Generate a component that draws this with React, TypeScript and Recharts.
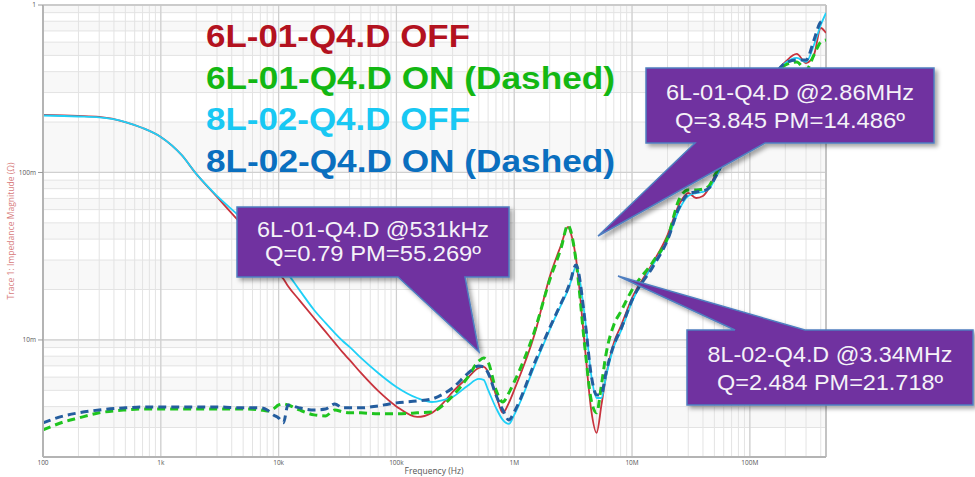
import React from 'react'
import { LineChart, Line, XAxis, YAxis, CartesianGrid, ReferenceLine } from 'recharts'

// sweep frequencies (Hz) shared by all four traces
const freqHz = [
  100, 150, 200, 300, 500, 700, 1e3, 1.5e3, 2e3, 3e3,
  5e3, 7e3, 8e3, 9e3, 1e4, 1.1e4, 1.2e4, 1.5e4, 2e4, 2.5e4,
  3e4, 3.5e4, 4e4, 5e4, 7e4, 1e5, 1.5e5, 2e5, 2.5e5, 3e5,
  4e5, 5e5, 5.5e5, 6e5, 7e5, 8e5, 9e5, 1e6, 1.5e6, 2e6,
  2.5e6, 2.86e6, 3e6, 3.34e6, 4e6, 4.5e6, 5e6, 5.5e6, 6e6, 7e6,
  8e6, 1e7, 1.5e7, 2e7, 2.5e7, 3e7, 3.5e7, 4e7, 4.5e7, 5e7,
  6e7, 7e7, 1e8, 1.5e8, 2e8, 2.5e8, 3e8, 3.5e8, 4e8, 4.43e8,
]

// impedance magnitude (ohm)
const off6L = [
  0.2205, 0.2189, 0.2174, 0.2145, 0.2001, 0.1843, 0.1629, 0.1272, 0.098, 0.0714,
  0.0479, 0.0369, 0.0322, 0.0288, 0.0251, 0.0231, 0.021, 0.0173, 0.01353, 0.0112,
  0.0096, 0.00842, 0.0076, 0.00635, 0.00496, 0.00401, 0.00347, 0.00367, 0.00421, 0.00489,
  0.00593, 0.0068, 0.0069, 0.00644, 0.00469, 0.00367, 0.00421, 0.00503, 0.011, 0.0238,
  0.0369, 0.0473, 0.0441, 0.0309, 0.00872, 0.00382, 0.00279, 0.00409, 0.00601, 0.0096,
  0.012, 0.0178, 0.0288, 0.0423, 0.064, 0.0754, 0.0704, 0.0724, 0.0808, 0.094,
  0.1188, 0.1521, 0.253, 0.357, 0.457, 0.51, 0.45, 0.503, 0.729, 0.681,
]
const on6L = [
  0.0029, 0.00324, 0.00342, 0.00367, 0.00382, 0.00387, 0.00387, 0.00387, 0.00387, 0.00387,
  0.00387, 0.00382, 0.00377, 0.00387, 0.00409, 0.00415, 0.00409, 0.00382, 0.00357, 0.00352,
  0.00382, 0.00372, 0.00367, 0.00367, 0.00362, 0.00362, 0.00367, 0.00372, 0.00409, 0.00463,
  0.00593, 0.00749, 0.00781, 0.00739, 0.00503, 0.00426, 0.00483, 0.00561, 0.0115, 0.0228,
  0.0354, 0.0486, 0.0454, 0.03, 0.00872, 0.00438, 0.00367, 0.00539, 0.00814, 0.0123,
  0.0147, 0.0199, 0.0292, 0.0406, 0.0685, 0.0786, 0.0786, 0.0797, 0.0831, 0.0953,
  0.1221, 0.1563, 0.253, 0.357, 0.438, 0.457, 0.409, 0.503, 0.601, 0.618,
]
const off8L = [
  0.2189, 0.2174, 0.2159, 0.213, 0.2001, 0.1843, 0.1629, 0.1272, 0.098, 0.0724,
  0.0521, 0.0406, 0.0364, 0.0326, 0.0292, 0.0269, 0.0248, 0.0199, 0.0151, 0.01264,
  0.011, 0.00986, 0.00909, 0.00781, 0.00635, 0.00524, 0.0045, 0.00426, 0.00438, 0.00457,
  0.00531, 0.00585, 0.00577, 0.00503, 0.00393, 0.00333, 0.00315, 0.00357, 0.00709, 0.0115,
  0.0162, 0.0199, 0.0219, 0.0273, 0.0132, 0.00618, 0.0045, 0.0045, 0.00601, 0.00909,
  0.0112, 0.0169, 0.028, 0.0395, 0.0597, 0.0724, 0.0754, 0.0765, 0.0797, 0.0902,
  0.1155, 0.1521, 0.253, 0.357, 0.45, 0.483, 0.457, 0.577, 0.76, 0.896,
]
const on8L = [
  0.0032, 0.00352, 0.00367, 0.00382, 0.00393, 0.00398, 0.00398, 0.00398, 0.00398, 0.00398,
  0.00393, 0.00393, 0.00382, 0.00357, 0.00342, 0.0032, 0.00409, 0.00393, 0.00382, 0.00387,
  0.00415, 0.00393, 0.00393, 0.00393, 0.00404, 0.00421, 0.00432, 0.00444, 0.00476, 0.00517,
  0.00627, 0.00699, 0.0069, 0.00635, 0.00469, 0.00382, 0.00333, 0.00372, 0.00739, 0.0118,
  0.0166, 0.0204, 0.0225, 0.028, 0.0128, 0.00618, 0.00469, 0.00476, 0.00635, 0.00934,
  0.0115, 0.0173, 0.0273, 0.0395, 0.0614, 0.0744, 0.0765, 0.0775, 0.0808, 0.0915,
  0.1188, 0.1521, 0.253, 0.357, 0.45, 0.469, 0.469, 0.618, 0.792, 0.814,
]

const xTicks = [1e2, 1e3, 1e4, 1e5, 1e6, 1e7, 1e8]
const xTickLabels = ['100', '1k', '10k', '100k', '1M', '10M', '100M']
const yTicks = [0.01, 0.1, 1]
const yTickLabels = ['10m', '100m', '1']

const legendLabels = ['6L-01-Q4.D OFF', '6L-01-Q4.D ON (Dashed)', '8L-02-Q4.D OFF', '8L-02-Q4.D ON (Dashed)']
const calloutText = [
  ['6L-01-Q4.D @531kHz', 'Q=0.79 PM=55.269º'],
  ['6L-01-Q4.D @2.86MHz', 'Q=3.845 PM=14.486º'],
  ['8L-02-Q4.D @3.34MHz', 'Q=2.484 PM=21.718º'],
]

const X_DOMAIN: [number, number] = [100, 4.43e8]
const Y_DOMAIN: [number, number] = [0.002, 1]

// decade lines, or every 1..9 multiple inside a domain
function logGrid(lo: number, hi: number, minor: boolean) {
  const out: number[] = []
  for (let e = Math.floor(Math.log10(lo)); e <= Math.ceil(Math.log10(hi)); e++) {
    const ks = minor ? [1, 2, 3, 4, 5, 6, 7, 8, 9] : [1]
    for (const k of ks) {
      const v = k * Math.pow(10, e)
      if (v >= lo * 0.999 && v <= hi * 1.001) out.push(v)
    }
  }
  return out
}
const xGridMinor = logGrid(X_DOMAIN[0], X_DOMAIN[1], true)
const yGridMinor = logGrid(Y_DOMAIN[0], Y_DOMAIN[1], true)
const xGridMajor = logGrid(X_DOMAIN[0], X_DOMAIN[1], false)
const yGridMajor = logGrid(Y_DOMAIN[0], Y_DOMAIN[1], false)

const rows = freqHz.map((f, i) => ({ f, off6L: off6L[i], on6L: on6L[i], off8L: off8L[i], on8L: on8L[i] }))

function logPos(v: number, [lo, hi]: [number, number], start: number, size: number) {
  return start + ((Math.log10(v) - Math.log10(lo)) / (Math.log10(hi) - Math.log10(lo))) * size
}

const vGen = (values: number[]) => ({ xAxis, offset }: any) =>
  values.map((v) =>
    xAxis && typeof xAxis.scale === 'function' ? xAxis.scale(v) : logPos(v, X_DOMAIN, offset.left, offset.width),
  )
const hGen = (values: number[]) => ({ yAxis, offset }: any) =>
  values.map((v) =>
    yAxis && typeof yAxis.scale === 'function'
      ? yAxis.scale(v)
      : offset.top + offset.height - logPos(v, Y_DOMAIN, 0, offset.height),
  )

const XTick = ({ x, y, payload }: any) => {
  const i = xTicks.indexOf(payload.value)
  return (
    <text x={x} y={y + 8} textAnchor="middle" fontSize={6.5} fill="#555" fontFamily="'Open Sans', sans-serif">
      {xTickLabels[i] ?? payload.value}
    </text>
  )
}
const YTick = ({ x, y, payload }: any) => {
  const i = yTicks.indexOf(payload.value)
  return (
    <text x={x} y={y + 2.2} textAnchor="end" fontSize={6.5} fill="#555" fontFamily="'Open Sans', sans-serif">
      {yTickLabels[i] ?? payload.value}
    </text>
  )
}

const legendStyle = [
  { color: '#b3121f', x: 206, y: 47, len: 264 },
  { color: '#13b713', x: 206, y: 88.5, len: 409 },
  { color: '#19c8f3', x: 206, y: 130, len: 264 },
  { color: '#0a6fbf', x: 206, y: 172, len: 409 },
]

// speech-bubble outlines, text centre and baselines
const calloutShape = [
  { d: 'M237,207 H509 V277 H465 L479,352 L398,277 H237 Z', cx: 373, y: [237, 260.5], len: [232, 216] },
  { d: 'M646,68 H934 V143 H765 L598,236 L695,143 H646 Z', cx: 790, y: [100, 128], len: [248, 230] },
  { d: 'M687,330 H735 L618,276 L805,330 H973 V405 H687 Z', cx: 830, y: [362, 390], len: [245, 226] },
]

export default function App() {
  return (
    <div style={{ position: 'fixed', left: 0, top: 0, width: 975, height: 477, background: '#fff' }}>
      <LineChart width={975} height={477} data={rows} margin={{ top: 5, right: 149, bottom: 0, left: 0 }}>
        <CartesianGrid
          stroke="#e3e3e3"
          strokeWidth={1}
          horizontalFill={['#f8f8f8', '#ffffff']}
          verticalCoordinatesGenerator={vGen(xGridMinor)}
          horizontalCoordinatesGenerator={hGen(yGridMinor)}
        />
        <CartesianGrid
          stroke="#d0d0d0"
          strokeWidth={1.2}
          fill="none"
          verticalCoordinatesGenerator={vGen(xGridMajor)}
          horizontalCoordinatesGenerator={hGen(yGridMajor)}
        />
        <XAxis
          dataKey="f"
          type="number"
          scale="log"
          domain={X_DOMAIN}
          allowDataOverflow
          ticks={xTicks}
          interval={0}
          height={20}
          tickLine={false}
          tickSize={0}
          tickMargin={0}
          tick={<XTick />}
          axisLine={{ stroke: '#b4b4b4', strokeWidth: 2 }}
        />
        <YAxis
          type="number"
          scale="log"
          domain={Y_DOMAIN}
          allowDataOverflow
          ticks={yTicks}
          interval={0}
          width={43}
          tickSize={5}
          tickMargin={2}
          tickLine={{ stroke: '#9a9a9a' }}
          tick={<YTick />}
          axisLine={{ stroke: '#b4b4b4', strokeWidth: 2 }}
        />
        <ReferenceLine x={X_DOMAIN[1]} stroke="#c4c4c4" strokeWidth={2} />
        <ReferenceLine y={Y_DOMAIN[1]} stroke="#c4c4c4" strokeWidth={1.5} />
        <Line dataKey="off6L" type="monotone" stroke="#c8333d" strokeWidth={1.8} dot={false} activeDot={false} isAnimationActive={false} />
        <Line dataKey="off8L" type="monotone" stroke="#1fd0f7" strokeWidth={1.8} dot={false} activeDot={false} isAnimationActive={false} />
        <Line dataKey="on6L" type="monotone" stroke="#1fc41f" strokeWidth={3} strokeDasharray="8 5" dot={false} activeDot={false} isAnimationActive={false} />
        <Line dataKey="on8L" type="monotone" stroke="#245d9e" strokeWidth={3} strokeDasharray="8 5" dot={false} activeDot={false} isAnimationActive={false} />
      </LineChart>

      <svg width={975} height={477} style={{ position: 'absolute', left: 0, top: 0, pointerEvents: 'none' }}>
        <defs>
          <filter id="bubbleShadow" x="-10%" y="-10%" width="130%" height="140%">
            <feDropShadow dx={3} dy={3} stdDeviation={2} floodColor="#000" floodOpacity={0.35} />
          </filter>
        </defs>

        <text
          transform="translate(14,231) rotate(-90)"
          textAnchor="middle"
          fontSize={8.5}
          fill="#d77c7c"
          fontFamily="'Open Sans', sans-serif"
          textLength={137}
          lengthAdjust="spacingAndGlyphs"
        >
          Trace 1: Impedance Magnitude (Ω)
        </text>
        <text x={434} y={474} textAnchor="middle" fontSize={8.5} fill="#555" fontFamily="'Open Sans', sans-serif">
          Frequency (Hz)
        </text>

        {legendLabels.map((t, i) => (
          <text
            key={t}
            x={legendStyle[i].x}
            y={legendStyle[i].y}
            fontSize={31}
            fontWeight="bold"
            fill={legendStyle[i].color}
            fontFamily="'Liberation Sans', Arial, sans-serif"
            textLength={legendStyle[i].len}
            lengthAdjust="spacingAndGlyphs"
          >
            {t}
          </text>
        ))}

        {calloutShape.map((c, i) => (
          <g key={i}>
            <path d={c.d} fill="#7030a0" stroke="#4f7fc0" strokeWidth={1.5} filter="url(#bubbleShadow)" />
            {calloutText[i].map((line, j) => (
              <text
                key={j}
                x={c.cx}
                y={c.y[j]}
                textAnchor="middle"
                fontSize={21.5}
                fill="#f5f2f8"
                fontFamily="'Liberation Sans', Arial, sans-serif"
                textLength={c.len[j]}
                lengthAdjust="spacingAndGlyphs"
              >
                {line}
              </text>
            ))}
          </g>
        ))}
      </svg>
    </div>
  )
}
